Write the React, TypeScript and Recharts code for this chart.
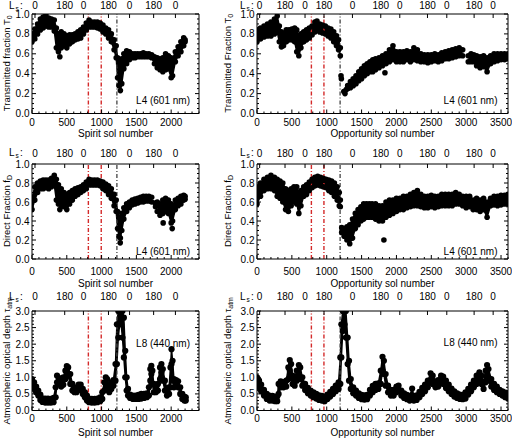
import React from 'react';
import { ComposedChart, Area, Scatter, XAxis, YAxis, ReferenceLine } from 'recharts';

// [sol, lower edge, upper edge] of the dense point cloud
type Band = [number, number | null, number | null][];
type Pts = [number, number][];

const spiritT0: Band = [
  [0, 0.72, 0.8], [40, 0.75, 0.85], [80, 0.8, 0.9], [120, 0.84, 0.95], [160, 0.86, 0.97],
  [200, 0.88, 0.99], [240, 0.87, 0.96], [280, 0.87, 0.95], [320, 0.83, 0.94], [350, 0.66, 0.86],
  [380, 0.62, 0.8], [420, 0.66, 0.82], [460, 0.68, 0.8], [500, 0.66, 0.78], [540, 0.7, 0.79],
  [580, 0.72, 0.79], [620, 0.74, 0.8], [660, 0.75, 0.82], [700, 0.76, 0.84], [740, 0.8, 0.87],
  [780, 0.84, 0.91], [820, 0.87, 0.94], [860, 0.87, 0.92], [900, 0.87, 0.92], [940, 0.86, 0.92],
  [980, 0.85, 0.91], [1020, 0.82, 0.89], [1060, 0.8, 0.86], [1100, 0.76, 0.84], [1140, 0.72, 0.8],
  [1180, 0.64, 0.74], [1210, 0.56, 0.68], [1230, 0.36, 0.56], [1250, 0.28, 0.52], [1270, 0.23, 0.48],
  [1290, 0.3, 0.55], [1320, 0.45, 0.6], [1360, 0.5, 0.63], [1400, 0.54, 0.62], [1440, 0.56, 0.6],
  [1480, 0.56, 0.6], [1520, 0.57, 0.6], [1560, 0.57, 0.6], [1600, 0.57, 0.61], [1640, 0.57, 0.6],
  [1680, 0.57, 0.6], [1720, 0.56, 0.59], [1760, 0.5, 0.57], [1800, 0.46, 0.56], [1840, 0.44, 0.55],
  [1880, 0.42, 0.56], [1920, 0.44, 0.6], [1960, 0.45, 0.58], [2000, 0.36, 0.56], [2020, 0.38, 0.55],
  [2060, 0.52, 0.62], [2100, 0.58, 0.67], [2140, 0.62, 0.72], [2180, 0.68, 0.76], [2200, 0.72, 0.74],
];
const spiritT0Extra: Pts = [[400, 0.57]];

const spiritFd: Band = [
  [0, 0.52, 0.64], [40, 0.62, 0.76], [80, 0.7, 0.8], [120, 0.74, 0.82], [160, 0.74, 0.83],
  [200, 0.75, 0.83], [240, 0.74, 0.83], [280, 0.76, 0.85], [320, 0.78, 0.88], [350, 0.62, 0.84],
  [380, 0.58, 0.78], [420, 0.56, 0.74], [460, 0.55, 0.7], [500, 0.52, 0.68], [540, 0.58, 0.7],
  [580, 0.62, 0.72], [620, 0.66, 0.74], [660, 0.68, 0.75], [700, 0.7, 0.76], [740, 0.72, 0.78],
  [780, 0.74, 0.81], [820, 0.78, 0.84], [860, 0.78, 0.83], [900, 0.78, 0.83], [940, 0.78, 0.83],
  [980, 0.77, 0.82], [1020, 0.74, 0.81], [1060, 0.72, 0.79], [1100, 0.68, 0.77], [1140, 0.64, 0.74],
  [1180, 0.56, 0.68], [1210, 0.5, 0.62], [1230, 0.32, 0.5], [1250, 0.24, 0.44], [1270, 0.22, 0.42],
  [1290, 0.3, 0.48], [1320, 0.42, 0.54], [1360, 0.5, 0.58], [1400, 0.54, 0.6], [1440, 0.57, 0.62],
  [1480, 0.58, 0.63], [1520, 0.59, 0.64], [1560, 0.6, 0.65], [1600, 0.6, 0.66], [1640, 0.61, 0.66],
  [1680, 0.61, 0.66], [1720, 0.6, 0.65], [1750, null, null], [1800, 0.5, 0.6], [1840, 0.46, 0.58],
  [1880, 0.48, 0.62], [1920, 0.5, 0.64], [1960, 0.48, 0.62], [2000, 0.38, 0.58], [2020, 0.4, 0.56],
  [2060, 0.52, 0.62], [2100, 0.56, 0.64], [2140, 0.58, 0.66], [2180, 0.62, 0.67], [2200, 0.63, 0.66],
];
const spiritFdExtra: Pts = [[400, 0.52], [1268, 0.17], [1770, 0.59], [1775, 0.55], [1885, 0.38], [2015, 0.32]];

const spiritTau: Band = [
  [0, 0.75, 0.95], [30, 0.65, 0.85], [60, 0.55, 0.72], [90, 0.45, 0.6], [120, 0.32, 0.48],
  [150, 0.26, 0.37], [190, 0.24, 0.36], [230, 0.24, 0.36], [270, 0.24, 0.35], [310, 0.25, 0.38],
  [340, 0.4, 0.7], [360, 0.85, 1.05], [390, 0.8, 0.98], [420, 0.72, 0.9], [450, 0.78, 1.0],
  [480, 0.95, 1.2], [500, 1.15, 1.34], [520, 1.05, 1.3], [550, 0.8, 1.1], [580, 0.6, 0.8],
  [610, 0.55, 0.68], [640, 0.55, 0.7], [670, 0.65, 0.78], [700, 0.62, 0.78], [730, 0.5, 0.65],
  [760, 0.4, 0.55], [790, 0.3, 0.45], [820, 0.25, 0.36], [860, 0.24, 0.35], [900, 0.24, 0.35],
  [940, 0.25, 0.36], [980, 0.28, 0.4], [1010, 0.35, 0.55], [1040, 0.6, 0.85], [1060, 0.8, 1.0],
  [1080, 0.7, 0.95], [1110, 0.55, 0.72], [1140, 0.65, 0.85], [1170, 0.75, 0.92], [1200, 0.9, 1.4],
  [1220, 1.4, 2.6], [1240, 2.2, 3.0], [1260, 2.6, 3.0], [1280, 2.6, 3.0], [1300, 2.2, 3.0],
  [1320, 1.6, 2.8], [1340, 1.0, 1.8], [1360, 0.6, 1.0], [1380, 0.45, 0.65], [1410, 0.38, 0.48],
  [1450, 0.35, 0.45], [1490, 0.35, 0.45], [1530, 0.35, 0.47], [1570, 0.36, 0.5], [1610, 0.38, 0.5],
  [1650, 0.4, 0.52], [1680, 0.45, 0.7], [1700, 0.9, 1.25], [1715, 1.1, 1.35], [1730, 0.8, 1.2],
  [1750, 0.55, 0.8], [1780, 0.55, 0.7], [1810, 0.6, 0.8], [1840, 0.95, 1.3], [1860, 1.15, 1.4],
  [1880, 0.9, 1.25], [1910, 0.6, 0.9], [1940, 0.45, 0.65], [1970, 0.5, 0.7], [1990, 0.7, 1.3],
  [2005, 1.4, 1.85], [2020, 0.9, 1.5], [2040, 0.7, 0.95], [2070, 0.75, 0.92], [2100, 0.7, 0.88],
  [2130, 0.5, 0.7], [2160, 0.35, 0.5], [2190, 0.3, 0.42], [2210, 0.3, 0.4],
];

const oppT0: Band = [
  [0, 0.72, 0.84], [50, 0.75, 0.86], [100, 0.77, 0.88], [150, 0.78, 0.9], [200, 0.78, 0.92],
  [250, 0.8, 0.95], [290, 0.82, 0.98], [320, 0.72, 0.88], [350, 0.67, 0.82], [380, 0.68, 0.8],
  [420, 0.72, 0.84], [460, 0.74, 0.84], [500, 0.74, 0.85], [540, 0.72, 0.86], [570, 0.62, 0.84],
  [600, 0.58, 0.78], [630, 0.66, 0.8], [670, 0.72, 0.82], [710, 0.74, 0.84], [750, 0.76, 0.86],
  [790, 0.79, 0.88], [830, 0.82, 0.92], [860, 0.84, 0.93], [900, 0.82, 0.9], [940, 0.81, 0.89],
  [980, 0.8, 0.88], [1020, 0.78, 0.86], [1060, 0.76, 0.85], [1100, 0.72, 0.82], [1140, 0.68, 0.78],
  [1170, 0.64, 0.74], [1195, 0.58, 0.66], [1250, null, null], [1300, 0.25, 0.28], [1340, 0.26, 0.32],
  [1380, 0.28, 0.35], [1420, 0.3, 0.38], [1460, 0.33, 0.42], [1500, 0.35, 0.45], [1540, 0.38, 0.48],
  [1580, 0.4, 0.5], [1620, 0.42, 0.52], [1660, 0.42, 0.54], [1700, 0.44, 0.55], [1750, 0.46, 0.56],
  [1800, 0.48, 0.58], [1850, 0.5, 0.6], [1900, 0.52, 0.64], [1950, 0.54, 0.68], [2000, 0.52, 0.62],
  [2050, 0.52, 0.62], [2100, 0.52, 0.62], [2150, 0.54, 0.63], [2200, 0.52, 0.62], [2250, 0.54, 0.66],
  [2300, 0.53, 0.64], [2350, 0.52, 0.6], [2400, 0.52, 0.59], [2450, 0.51, 0.59], [2500, 0.52, 0.59],
  [2550, 0.53, 0.6], [2600, 0.52, 0.59], [2650, 0.53, 0.61], [2700, 0.55, 0.62], [2750, 0.55, 0.63],
  [2800, 0.56, 0.64], [2850, 0.57, 0.65], [2900, 0.58, 0.66], [2950, 0.58, 0.64], [2990, null, null],
  [3030, 0.52, 0.58], [3070, 0.52, 0.6], [3110, 0.52, 0.59], [3150, 0.48, 0.58], [3200, 0.46, 0.57],
  [3250, 0.47, 0.58], [3300, 0.42, 0.56], [3350, 0.5, 0.58], [3400, 0.52, 0.6], [3450, 0.53, 0.6],
  [3500, 0.54, 0.6], [3550, 0.54, 0.6], [3600, 0.55, 0.6],
];
const oppT0Extra: Pts = [[1205, 0.38], [1210, 0.35], [1245, 0.22], [1262, 0.2], [1280, 0.24], [1835, 0.41]];

const oppFd: Band = [
  [0, 0.58, 0.76], [50, 0.66, 0.8], [100, 0.72, 0.84], [150, 0.74, 0.86], [200, 0.74, 0.88],
  [250, 0.72, 0.86], [290, 0.66, 0.84], [330, 0.64, 0.82], [370, 0.6, 0.8], [410, 0.52, 0.74],
  [450, 0.5, 0.72], [490, 0.56, 0.74], [530, 0.6, 0.76], [570, 0.58, 0.76], [600, 0.48, 0.7],
  [630, 0.56, 0.72], [670, 0.66, 0.76], [710, 0.68, 0.78], [750, 0.72, 0.81], [790, 0.75, 0.84],
  [830, 0.77, 0.86], [870, 0.78, 0.87], [910, 0.77, 0.86], [950, 0.76, 0.85], [990, 0.75, 0.84],
  [1030, 0.72, 0.83], [1070, 0.7, 0.82], [1110, 0.66, 0.8], [1150, 0.62, 0.76], [1180, 0.56, 0.7],
  [1195, 0.55, 0.62], [1205, null, null], [1215, 0.28, 0.33], [1250, 0.24, 0.32], [1290, 0.2, 0.34],
  [1330, 0.16, 0.36], [1370, 0.22, 0.42], [1410, 0.32, 0.48], [1450, 0.36, 0.52], [1490, 0.4, 0.55],
  [1530, 0.42, 0.58], [1570, 0.44, 0.58], [1610, 0.44, 0.58], [1650, 0.44, 0.58], [1700, 0.42, 0.58],
  [1750, 0.4, 0.56], [1800, 0.4, 0.56], [1850, 0.44, 0.6], [1900, 0.46, 0.62], [1950, 0.48, 0.62],
  [2000, 0.5, 0.64], [2050, 0.52, 0.64], [2100, 0.52, 0.66], [2150, 0.54, 0.66], [2200, 0.55, 0.68],
  [2250, 0.56, 0.7], [2300, 0.56, 0.72], [2350, 0.55, 0.68], [2400, 0.54, 0.66], [2450, 0.54, 0.66],
  [2500, 0.55, 0.67], [2550, 0.54, 0.66], [2600, 0.55, 0.66], [2650, 0.56, 0.68], [2700, 0.56, 0.68],
  [2750, 0.56, 0.68], [2800, 0.56, 0.68], [2850, 0.58, 0.7], [2900, 0.58, 0.68], [2950, 0.56, 0.66],
  [3000, 0.54, 0.66], [3050, 0.55, 0.66], [3100, 0.52, 0.62], [3150, 0.52, 0.64], [3200, 0.5, 0.62],
  [3250, 0.52, 0.64], [3300, 0.44, 0.6], [3350, 0.56, 0.64], [3400, 0.57, 0.66], [3450, 0.56, 0.66],
  [3500, 0.57, 0.67], [3550, 0.58, 0.67], [3600, 0.58, 0.68],
];
const oppFdExtra: Pts = [[1820, 0.2]];

const oppTau: Band = [
  [0, 0.8, 1.0], [30, 0.7, 0.9], [60, 0.58, 0.78], [100, 0.45, 0.62], [140, 0.35, 0.5],
  [180, 0.3, 0.45], [220, 0.3, 0.44], [260, 0.28, 0.42], [290, 0.28, 0.42], [310, 0.5, 0.8],
  [340, 0.7, 0.88], [380, 0.7, 0.86], [420, 0.72, 0.9], [450, 0.95, 1.3], [470, 1.2, 1.52],
  [490, 1.0, 1.4], [510, 0.8, 1.05], [540, 0.75, 0.95], [570, 0.9, 1.2], [600, 1.1, 1.37],
  [620, 0.95, 1.3], [650, 0.75, 1.0], [690, 0.62, 0.8], [730, 0.52, 0.68], [770, 0.45, 0.6],
  [810, 0.4, 0.55], [850, 0.36, 0.5], [890, 0.32, 0.46], [930, 0.3, 0.44], [970, 0.28, 0.42],
  [1010, 0.35, 0.48], [1050, 0.42, 0.56], [1090, 0.5, 0.65], [1130, 0.58, 0.75], [1170, 0.65, 0.85],
  [1195, 0.8, 1.6], [1210, 1.6, 2.6], [1230, 2.4, 3.0], [1255, 2.6, 3.0], [1275, 2.2, 3.0],
  [1300, 1.4, 2.2], [1320, 0.9, 1.5], [1345, 0.65, 0.95], [1380, 0.52, 0.7], [1420, 0.45, 0.6],
  [1460, 0.38, 0.52], [1500, 0.34, 0.47], [1540, 0.33, 0.46], [1580, 0.34, 0.47], [1620, 0.45, 0.62],
  [1660, 0.55, 0.74], [1700, 0.62, 0.8], [1740, 0.65, 0.82], [1775, 0.8, 1.2], [1800, 1.2, 1.62],
  [1820, 1.1, 1.5], [1845, 0.75, 1.1], [1880, 0.55, 0.75], [1920, 0.45, 0.62], [1960, 0.45, 0.62],
  [2000, 0.55, 0.72], [2030, 0.58, 0.75], [2070, 0.45, 0.6], [2110, 0.38, 0.52], [2150, 0.34, 0.47],
  [2190, 0.3, 0.44], [2225, 0.32, 0.66], [2250, 0.3, 0.44], [2290, 0.32, 0.46], [2330, 0.4, 0.56],
  [2370, 0.5, 0.68], [2410, 0.58, 0.78], [2450, 0.7, 0.9], [2490, 0.85, 1.12], [2520, 0.8, 1.05],
  [2560, 0.7, 0.88], [2600, 0.72, 0.92], [2640, 0.85, 1.05], [2670, 0.8, 1.02], [2710, 0.68, 0.9],
  [2750, 0.58, 0.78], [2790, 0.5, 0.66], [2830, 0.42, 0.58], [2870, 0.38, 0.52], [2910, 0.35, 0.48],
  [2950, 0.34, 0.47], [2990, 0.36, 0.55], [3030, 0.48, 0.65], [3070, 0.58, 0.78], [3110, 0.7, 0.9],
  [3150, 0.8, 1.05], [3190, 0.9, 1.15], [3220, 0.8, 1.05], [3250, 0.65, 0.85], [3280, 0.85, 1.2],
  [3300, 1.05, 1.37], [3320, 0.9, 1.25], [3360, 0.72, 0.95], [3400, 0.62, 0.8], [3440, 0.55, 0.72],
  [3480, 0.5, 0.62], [3520, 0.45, 0.58], [3560, 0.4, 0.54], [3600, 0.36, 0.5],
];

const spiritSolTicks = [0, 500, 1000, 1500, 2000];
const oppSolTicks = [0, 500, 1000, 1500, 2000, 2500, 3000, 3500];
const spiritLsSols = [43, 470, 739, 1099, 1402, 1748, 2061];
const oppLsSols = [38, 402, 689, 961, 1369, 1775, 2048, 2445, 2722, 3114, 3387];
const lsLabels = ['0', '180', '0', '180', '0', '180', '0', '180', '0', '180', '0'];
const fracTicks = [0, 0.2, 0.4, 0.6, 0.8, 1.0];
const tauTicks = [0, 0.5, 1.0, 1.5, 2.0, 2.5, 3.0];
const spiritMarks = { red: [810, 995], black: 1220 };
const oppMarks = { red: [780, 960], black: 1192 };

const TEXT_FONT = "'Liberation Sans', Arial, Helvetica, sans-serif";
const TOP_H = 26;
const BOTTOM_H = 18;

type Col = { left: number; width: number; right: number; titleX: number; lsX: number; labelX: number };
type Row = { top: number; bottom: number; lsGap: number; tickGap: number; titleY: number; labelY: number; dotR: number };

const cols: Col[] = [
  { left: 0, width: 256, right: 56, titleX: 9.5, lsX: 9, labelX: 190 },
  { left: 225, width: 287, right: 3, titleX: 231, lsX: 240, labelX: 497.5 },
];
const rows: Row[] = [
  { top: 13.5, bottom: 113, lsGap: 5, tickGap: 12.5, titleY: 137, labelY: 103.5, dotR: 2.8 },
  { top: 163.5, bottom: 258.5, lsGap: 7.5, tickGap: 16, titleY: 287, labelY: 255, dotR: 2.8 },
  { top: 311, bottom: 410.5, lsGap: 11.5, tickGap: 11.5, titleY: 435.5, labelY: 346.5, dotR: 3.1 },
];

const steps = (max: number, step: number) => {
  const out: number[] = [];
  for (let i = 0; i * step <= max + 1e-9; i++) out.push(Math.round(i * step * 1000) / 1000);
  return out;
};
const isOn = (v: number, step: number) => Math.abs(v / step - Math.round(v / step)) < 1e-6;

const tickText = { fontFamily: TEXT_FONT, fontSize: 10, fill: '#000' };

interface PanelProps {
  col: Col;
  row: Row;
  band: Band;
  extra: Pts;
  xMax: number;
  xMajor: number[];
  lsSols: number[];
  yMax: number;
  yMajor: number[];
  yMinor: number;
  marks: { red: number[]; black: number };
}

const Panel = ({ col, row, band, extra, xMax, xMajor, lsSols, yMax, yMajor, yMinor, marks }: PanelProps) => {
  const height = row.bottom - row.top + TOP_H + BOTTOM_H;
  const areaData = band.map(([x, lo, hi]) => ({ x, band: lo == null || hi == null ? null : [lo, hi] }));
  const dots: { x: number; y: number }[] = [];
  band.forEach(([x, lo, hi]) => {
    if (lo != null) dots.push({ x, y: lo });
    if (hi != null) dots.push({ x, y: hi });
  });
  extra.forEach(([x, y]) => dots.push({ x, y }));

  const xMajorStep = xMajor[1] - xMajor[0];
  const yMajorStep = yMajor[1] - yMajor[0];

  const bottomTick = (p: any) => {
    const v = p.payload.value;
    const major = isOn(v, xMajorStep);
    return (
      <g>
        <line x1={p.x} x2={p.x} y1={p.y} y2={p.y - (major ? 4 : 2)} stroke="#000" />
        {major && v <= xMajor[xMajor.length - 1] && (
          <text x={p.x} y={p.y + row.tickGap} textAnchor="middle" {...tickText}>{v}</text>
        )}
      </g>
    );
  };
  const topTick = (p: any) => (
    <g>
      <line x1={p.x} x2={p.x} y1={p.y} y2={p.y + 4} stroke="#000" />
      <text x={p.x} y={p.y - row.lsGap} textAnchor="middle" {...tickText}>{lsLabels[p.index]}</text>
    </g>
  );
  const leftTick = (p: any) => {
    const v = p.payload.value;
    const major = isOn(v, yMajorStep);
    return (
      <g>
        <line x1={p.x} x2={p.x + (major ? 4 : 2)} y1={p.y} y2={p.y} stroke="#000" />
        {major && (
          <text x={p.x - 2.5} y={p.y + 3.5} textAnchor="end" {...tickText}>{v.toFixed(1)}</text>
        )}
      </g>
    );
  };
  const rightTick = (p: any) => {
    const major = isOn(p.payload.value, yMajorStep);
    return <line x1={p.x} x2={p.x - (major ? 4 : 2)} y1={p.y} y2={p.y} stroke="#000" />;
  };

  return (
    <div style={{ position: 'absolute', left: col.left, top: row.top - TOP_H }}>
      <ComposedChart
        width={col.width}
        height={height}
        data={areaData}
        margin={{ top: 0, right: col.right, bottom: 0, left: 0 }}
      >
        <XAxis
          xAxisId="b"
          dataKey="x"
          type="number"
          domain={[0, xMax]}
          allowDataOverflow
          ticks={steps(xMax, 100)}
          interval={0}
          height={BOTTOM_H}
          tickLine={false}
          tickSize={0}
          tickMargin={0}
          tick={bottomTick}
          axisLine={{ stroke: '#000' }}
        />
        <XAxis
          xAxisId="t"
          dataKey="x"
          orientation="top"
          type="number"
          domain={[0, xMax]}
          allowDataOverflow
          ticks={lsSols}
          interval={0}
          height={TOP_H}
          tickLine={false}
          tickSize={0}
          tickMargin={0}
          tick={topTick}
          axisLine={{ stroke: '#000' }}
        />
        <YAxis
          yAxisId="l"
          type="number"
          domain={[0, yMax]}
          allowDataOverflow
          ticks={steps(yMax, yMinor)}
          interval={0}
          width={32}
          tickLine={false}
          tickSize={0}
          tickMargin={0}
          tick={leftTick}
          axisLine={{ stroke: '#000' }}
        />
        <YAxis
          yAxisId="r"
          orientation="right"
          type="number"
          domain={[0, yMax]}
          allowDataOverflow
          ticks={steps(yMax, yMinor)}
          interval={0}
          width={1}
          tickLine={false}
          tickSize={0}
          tickMargin={0}
          tick={rightTick}
          axisLine={{ stroke: '#000' }}
        />
        <Area
          xAxisId="b"
          yAxisId="l"
          dataKey="band"
          type="linear"
          stroke="#000"
          strokeWidth={1.5}
          fill="#000"
          fillOpacity={1}
          dot={false}
          activeDot={false}
          connectNulls={false}
          isAnimationActive={false}
        />
        <Scatter
          xAxisId="b"
          yAxisId="l"
          data={dots}
          dataKey="y"
          isAnimationActive={false}
          shape={(p: any) => <circle cx={p.cx} cy={p.cy} r={row.dotR} fill="#000" />}
        />
        {marks.red.map((s) => (
          <ReferenceLine key={s} xAxisId="b" yAxisId="l" x={s} stroke="#d42a2a" strokeWidth={1.4} strokeDasharray="4 2 1 2" />
        ))}
        <ReferenceLine xAxisId="b" yAxisId="l" x={marks.black} stroke="#444" strokeWidth={1.3} strokeDasharray="4 2 1 2" />
      </ComposedChart>
    </div>
  );
};

const yTitles: { main: string; sub: string }[][] = [
  [{ main: 'Transmitted fraction T', sub: '0' }, { main: 'Transmitted Fraction T', sub: '0' }],
  [{ main: 'Direct Fraction f', sub: 'D' }, { main: 'Direct Fraction f', sub: 'D' }],
  [{ main: 'Atmospheric optical depth \u03c4', sub: 'atm' }, { main: 'Atmospheric optical depth \u03c4', sub: 'atm' }],
];
const xTitles = ['Spirit sol number', 'Opportunity sol number'];
const filterLabels = ['L4 (601 nm)', 'L4 (601 nm)', 'L8 (440 nm)'];

const plotLeft = [32, 257];
const plotRight = [199, 508];

export default function App() {
  const panels = [
    [spiritT0, spiritT0Extra, oppT0, oppT0Extra, fracTicks, 0.05],
    [spiritFd, spiritFdExtra, oppFd, oppFdExtra, fracTicks, 0.05],
    [spiritTau, [], oppTau, [], tauTicks, 0.1],
  ] as [Band, Pts, Band, Pts, number[], number][];

  return (
    <div style={{ position: 'absolute', left: 0, top: 0, width: 512, height: 439, background: '#fff', overflow: 'hidden' }}>
      {panels.map(([sb, se, ob, oe, yMajor, yMinor], r) => (
        <React.Fragment key={r}>
          <Panel col={cols[0]} row={rows[r]} band={sb} extra={se} xMax={2400} xMajor={spiritSolTicks}
            lsSols={spiritLsSols} yMax={yMajor[yMajor.length - 1]} yMajor={yMajor} yMinor={yMinor} marks={spiritMarks} />
          <Panel col={cols[1]} row={rows[r]} band={ob} extra={oe} xMax={3600} xMajor={oppSolTicks}
            lsSols={oppLsSols} yMax={yMajor[yMajor.length - 1]} yMajor={yMajor} yMinor={yMinor} marks={oppMarks} />
        </React.Fragment>
      ))}
      <svg width={512} height={439} style={{ position: 'absolute', left: 0, top: 0, pointerEvents: 'none' }}>
        {rows.map((row, r) =>
          cols.map((col, c) => {
            const mid = (row.top + row.bottom) / 2;
            const t = yTitles[r][c];
            const ly = row.top - row.lsGap;
            return (
              <g key={`${r}-${c}`} fontFamily={TEXT_FONT} fill="#000">
                <text x={col.lsX} y={ly} fontSize={10}>L</text>
                <text x={col.lsX + 6.5} y={ly + 2} fontSize={6.5}>s</text>
                <text x={col.lsX + 11} y={ly} fontSize={10}>:</text>
                <text transform={`translate(${col.titleX},${mid}) rotate(-90)`} textAnchor="middle" fontSize={9.5}>
                  {t.main}
                  <tspan fontSize={7} dy={2}>{t.sub}</tspan>
                </text>
                <text x={(plotLeft[c] + plotRight[c]) / 2} y={row.titleY} textAnchor="middle" fontSize={10}>
                  {xTitles[c]}
                </text>
                <text x={col.labelX} y={r === 2 && c === 1 ? row.labelY - 1 : row.labelY} textAnchor="end" fontSize={10}>
                  {filterLabels[r]}
                </text>
              </g>
            );
          })
        )}
      </svg>
    </div>
  );
}
